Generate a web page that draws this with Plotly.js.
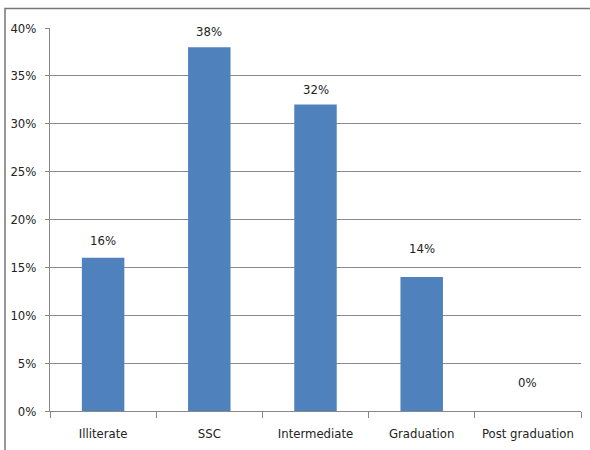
<!DOCTYPE html>
<html><head><meta charset="utf-8">
<script src="https://cdn.plot.ly/plotly-3.0.1.min.js"></script>
<style>body{margin:0;background:#fff}#c{width:590px;height:450px}</style>
</head><body><div id="c"></div>
<script>
var categories = ["Illiterate", "SSC", "Intermediate", "Graduation", "Post graduation"];
var values = [0.16, 0.38, 0.32, 0.14, 0.0];
var yTicks = [0, 0.05, 0.10, 0.15, 0.20, 0.25, 0.30, 0.35, 0.40];
var yTickText = ["0%", "5%", "10%", "15%", "20%", "25%", "30%", "35%", "40%"];
var valueLabels = ["16%", "38%", "32%", "14%", "0%"];

var fontFam = "DejaVu Sans Condensed";
var W = 590, H = 450, L = 50, R = 9, T = 28, B = 39;
var pw = W - L - R, ph = H - T - B;
var labelShift = [8, 6, 6, 19, 19];

var trace = {
  type: 'bar', x: categories, y: values,
  marker: {color: '#4F81BD', line: {width: 0}},
  hoverinfo: 'none'
};
var annotations = categories.map(function(c, i){
  return {x: c, y: values[i], xref: 'x', yref: 'y', text: valueLabels[i],
    showarrow: false, yanchor: 'bottom', yshift: labelShift[i],
    font: {family: fontFam, size: 13, color: '#222'}};
});
var layout = {
  width: W, height: H,
  margin: {l: L, r: R, t: T, b: B, pad: 0},
  paper_bgcolor: '#fff', plot_bgcolor: '#fff',
  showlegend: false, bargap: 0.6,
  font: {family: fontFam, size: 13, color: '#222'},
  annotations: annotations,
  xaxis: {
    type: 'category', tickson: 'boundaries', ticks: 'outside', ticklen: 6,
    tickcolor: '#888', showline: true, linecolor: '#888', linewidth: 1,
    showgrid: false, ticklabelstandoff: 10,
    tickfont: {family: fontFam, size: 13, color: '#222'}
  },
  yaxis: {
    range: [0, 0.40], tickvals: yTicks, ticktext: yTickText,
    ticks: 'outside', ticklen: 4, tickcolor: '#888',
    showline: true, linecolor: '#888', linewidth: 1,
    showgrid: true, gridcolor: '#8a8a8a', gridwidth: 1, zeroline: false,
    ticklabelstandoff: 6,
    tickfont: {family: fontFam, size: 13, color: '#222'}
  },
  shapes: [{
    type: 'rect', xref: 'paper', yref: 'paper',
    x0: (5 - L) / pw, x1: (W + 10 - L) / pw,
    y0: (T + ph - (H + 10)) / ph, y1: (T + ph - 8.5) / ph,
    line: {color: '#777', width: 1.5}, fillcolor: 'rgba(0,0,0,0)', layer: 'below'
  }]
};
Plotly.newPlot('c', [trace], layout, {staticPlot: true, displayModeBar: false});
</script></body></html>
